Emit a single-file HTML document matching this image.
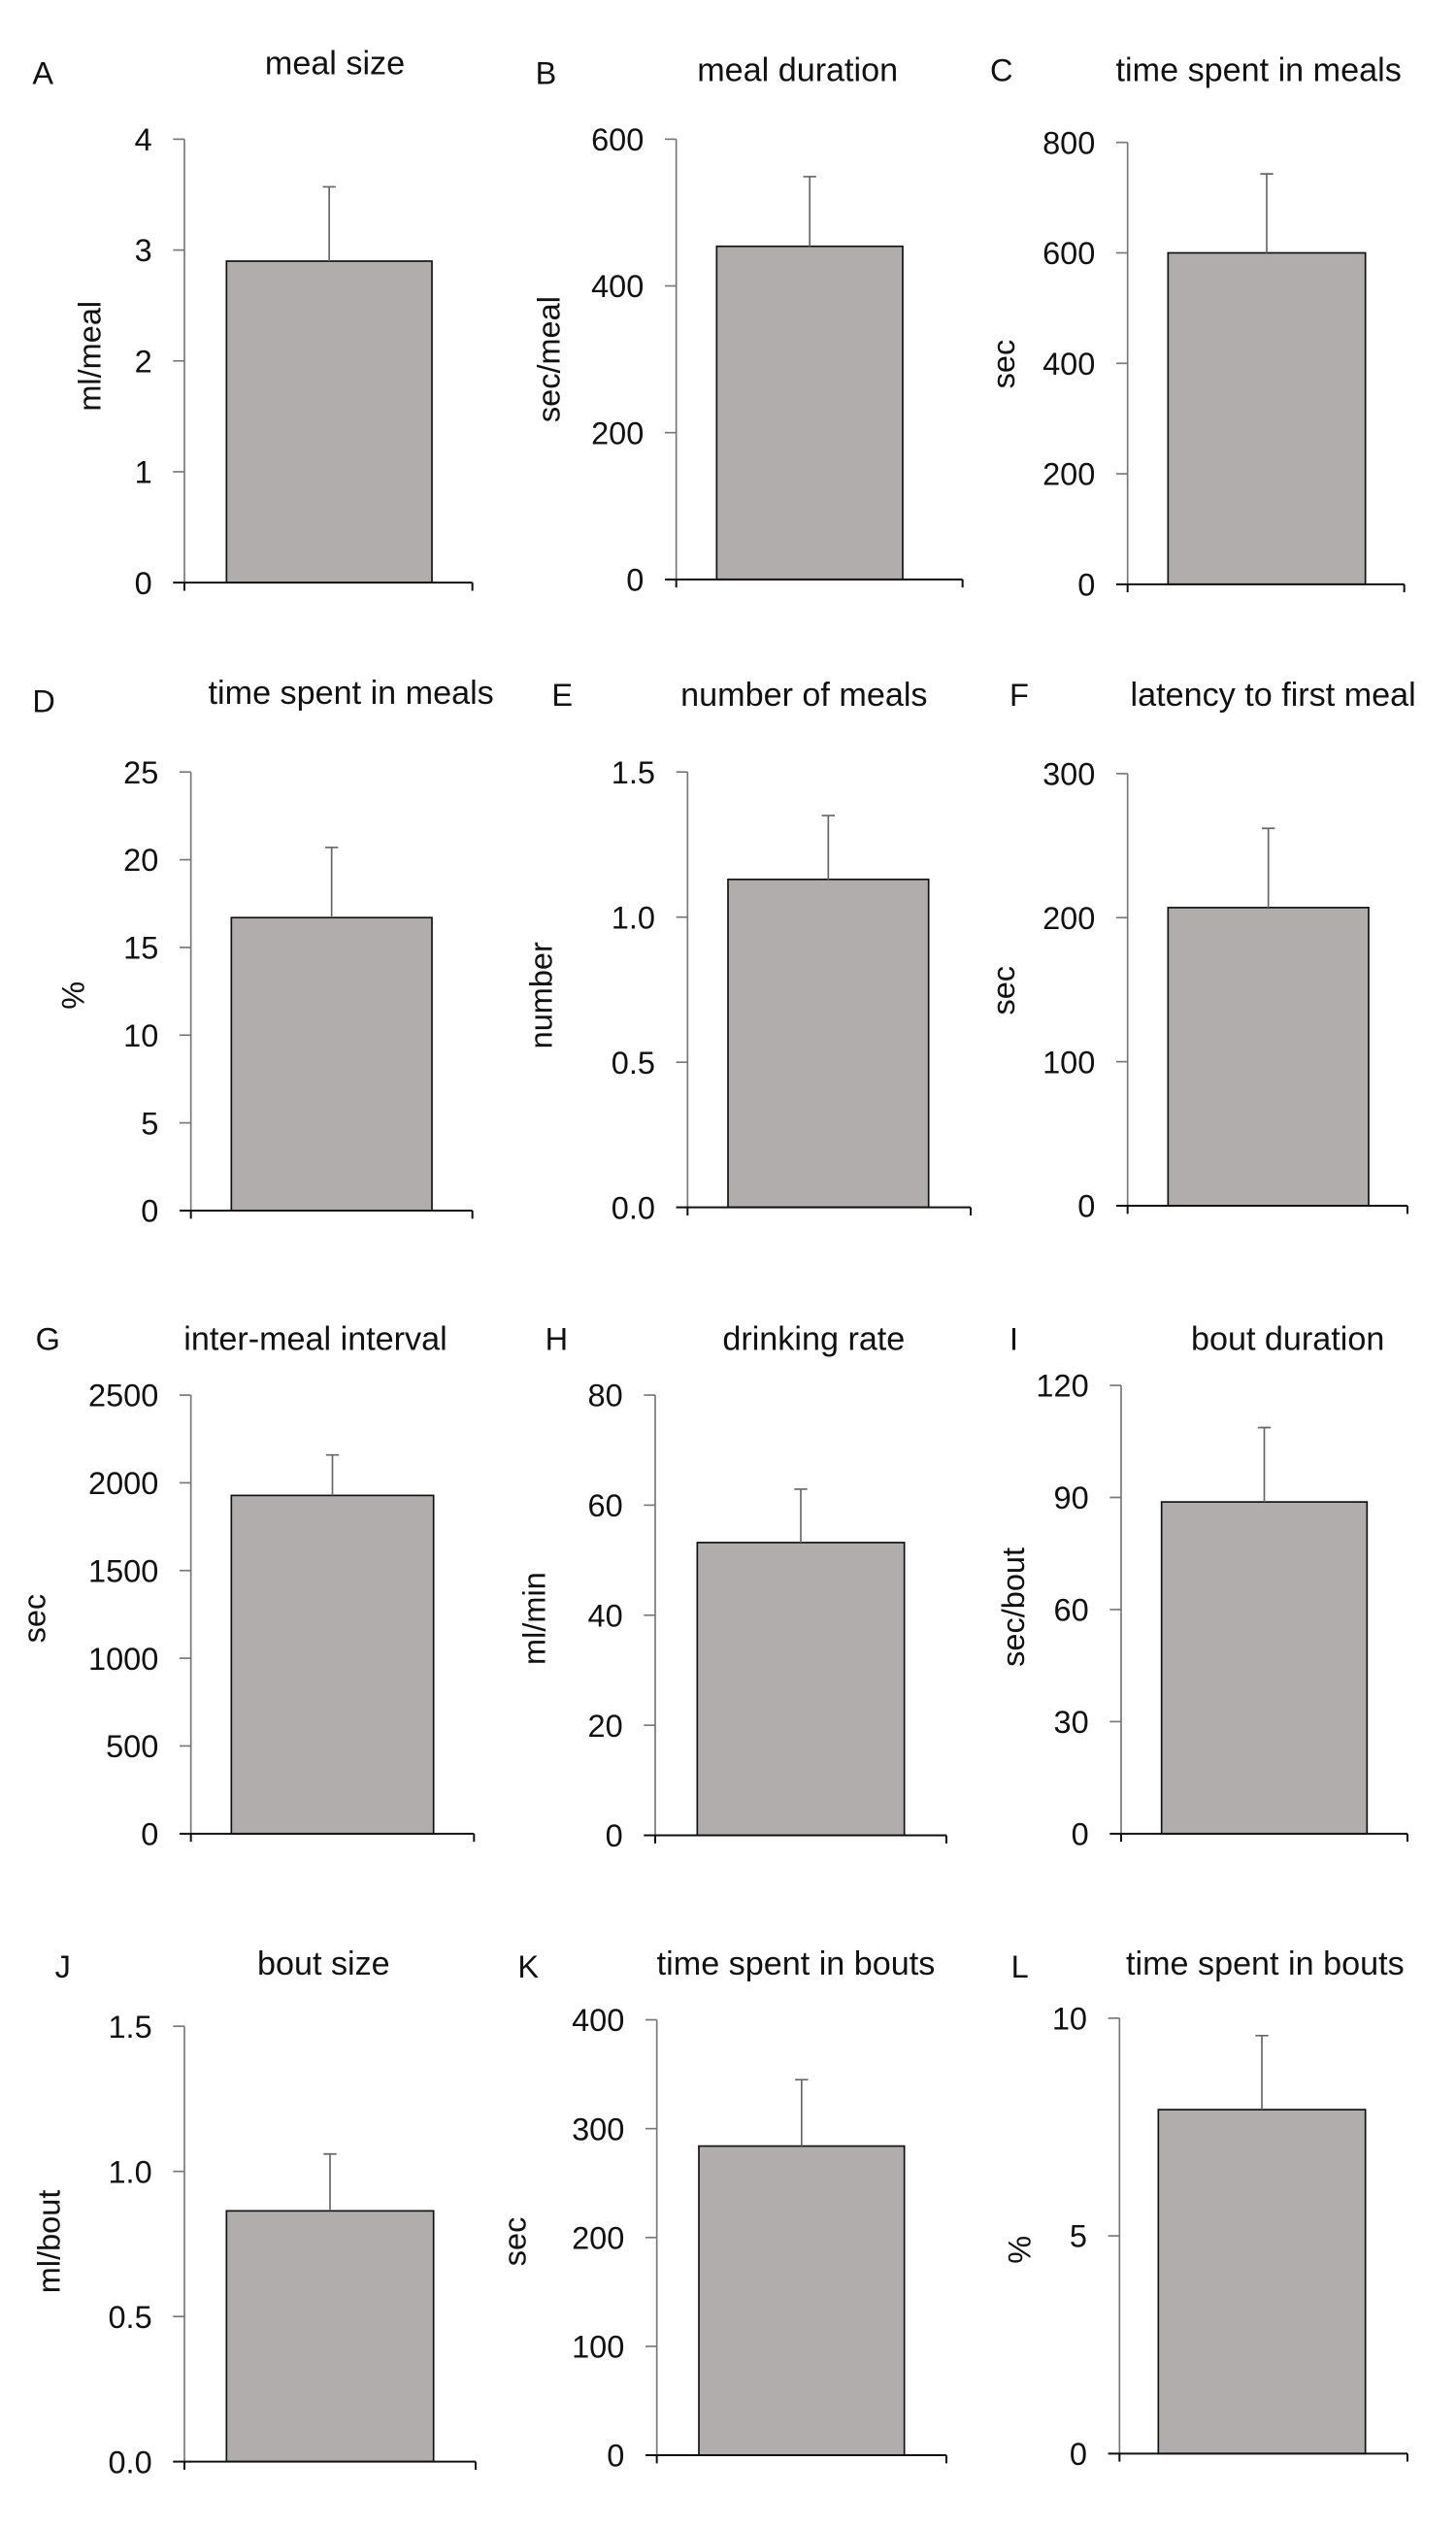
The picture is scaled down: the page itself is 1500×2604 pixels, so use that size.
<!DOCTYPE html>
<html><head><meta charset="utf-8"><style>
html,body{margin:0;padding:0;background:#fff;}
svg{display:block;font-family:"Liberation Sans",Arial,sans-serif;}
</style></head><body>
<svg id="fig" width="1500" height="2604" viewBox="0 0 900 1562" preserveAspectRatio="none" xmlns="http://www.w3.org/2000/svg"></svg>
<script>
const panelLetters = ["A","B","C","D","E","F","G","H","I","J","K","L"];
const panelTitles = ["meal size","meal duration","time spent in meals","time spent in meals","number of meals","latency to first meal","inter-meal interval","drinking rate","bout duration","bout size","time spent in bouts","time spent in bouts"];
const yLabels = ["ml/meal","sec/meal","sec","%","number","sec","sec","ml/min","sec/bout","ml/bout","sec","%"];
const barValues = [2.9, 454, 600, 16.7, 1.13, 207, 1928, 53.2, 88.8, 0.864, 284, 7.9];
const errValues = [0.67, 95, 143, 4.0, 0.22, 55, 231, 9.7, 19.9, 0.196, 61, 1.7];
const yMax = [4, 600, 800, 25, 1.5, 300, 2500, 80, 120, 1.5, 400, 10];
const tickValues = [[0,1,2,3,4],[0,200,400,600],[0,200,400,600,800],[0,5,10,15,20,25],[0,0.5,1,1.5],[0,100,200,300],[0,500,1000,1500,2000,2500],[0,20,40,60,80],[0,30,60,90,120],[0,0.5,1,1.5],[0,100,200,300,400],[0,5,10]];
const tickLabels = [["0","1","2","3","4"],["0","200","400","600"],["0","200","400","600","800"],["0","5","10","15","20","25"],["0.0","0.5","1.0","1.5"],["0","100","200","300"],["0","500","1000","1500","2000","2500"],["0","20","40","60","80"],["0","30","60","90","120"],["0.0","0.5","1.0","1.5"],["0","100","200","300","400"],["0","5","10"]];

const L = [
 {ax:114,top:86,zero:360,b0:140,b1:267,xe:292,tc:207,ty:46,lx:20,ly:52,yx:62,yy:220},
 {ax:418,top:86,zero:358,b0:443,b1:558,xe:595,tc:493,ty:50,lx:331,ly:52,yx:346,yy:222},
 {ax:697,top:88,zero:361,b0:722,b1:844,xe:868,tc:778,ty:50,lx:612,ly:50,yx:627,yy:225},
 {ax:118,top:477,zero:748,b0:143,b1:267,xe:292,tc:217,ty:435,lx:20,ly:440,yx:52,yy:615},
 {ax:425,top:477,zero:746,b0:450,b1:574,xe:600,tc:497,ty:436,lx:341,ly:436,yx:341,yy:615},
 {ax:697,top:478,zero:745,b0:722,b1:846,xe:870,tc:787,ty:436,lx:624,ly:436,yx:627,yy:612},
 {ax:118,top:862,zero:1133,b0:143,b1:268,xe:293,tc:195,ty:834,lx:22,ly:834,yx:28,yy:1000},
 {ax:405,top:862,zero:1134,b0:431,b1:559,xe:585,tc:503,ty:834,lx:337,ly:834,yx:337,yy:1000},
 {ax:693,top:856,zero:1133,b0:718,b1:845,xe:870,tc:796,ty:834,lx:624,ly:834,yx:633,yy:993},
 {ax:114,top:1252,zero:1521,b0:140,b1:268,xe:294,tc:200,ty:1220,lx:34,ly:1222,yx:37,yy:1385},
 {ax:406,top:1248,zero:1517,b0:432,b1:559,xe:585,tc:492,ty:1220,lx:320,ly:1222,yx:325,yy:1385},
 {ax:692,top:1247,zero:1516,b0:716,b1:844,xe:870,tc:782,ty:1220,lx:625,ly:1222,yx:637,yy:1390}
];
const NS="http://www.w3.org/2000/svg";
const svg=document.getElementById('fig');
function mk(tag,attrs,parent){const e=document.createElementNS(NS,tag);for(const k in attrs)e.setAttribute(k,attrs[k]);(parent||svg).appendChild(e);return e;}
for(let i=0;i<12;i++){
  const p=L[i];
  const y=v=>p.zero-(v/yMax[i])*(p.zero-p.top);
  const g=mk('g',{});
  
  
  const lt=mk('text',{x:p.lx,y:p.ly,'font-size':19.5,fill:'#111'},g);lt.textContent=panelLetters[i];
  
  
  const tt=mk('text',{x:p.tc,y:p.ty,'font-size':20.5,fill:'#111','text-anchor':'middle'},g);tt.textContent=panelTitles[i];
  
  
  const yl=mk('text',{x:p.yx,y:p.yy,'font-size':19.5,fill:'#111','text-anchor':'middle',transform:'rotate(-90 '+p.yx+' '+p.yy+')'},g);yl.textContent=yLabels[i];
  
  
  const by=y(barValues[i]);
  const bar=mk('rect',{x:p.b0,y:by,width:p.b1-p.b0,height:p.zero-by,fill:'#b0adac',stroke:'#111','stroke-width':1},g);
  
  
  const ex=(p.b0+p.b1)/2, ey=y(barValues[i]+errValues[i]);
  const el=mk('path',{d:`M${ex} ${by}V${ey}M${ex-4} ${ey}H${ex+4}`,stroke:'#666','stroke-width':1,fill:'none'},g);
  
  
  const ya=mk('line',{x1:p.ax,y1:p.top,x2:p.ax,y2:p.zero,stroke:'#777','stroke-width':1},g);
  
  
  tickValues[i].forEach((v,j)=>{
    const ty=y(v);
    const tk=mk('line',{x1:p.ax-7,y1:ty,x2:p.ax,y2:ty,stroke:'#777','stroke-width':1},g);
    
    
    const tl=mk('text',{x:p.ax-20,y:ty+7,'font-size':19.5,fill:'#111','text-anchor':'end'},g);tl.textContent=tickLabels[i][j];
    
    
  });
  const xa=mk('path',{d:`M${p.ax-7} ${p.zero}H${p.xe}M${p.ax} ${p.zero}v5M${p.xe} ${p.zero}v5`,stroke:'#111','stroke-width':1.2,fill:'none'},g);
  
  
}
</script>
</body></html>
